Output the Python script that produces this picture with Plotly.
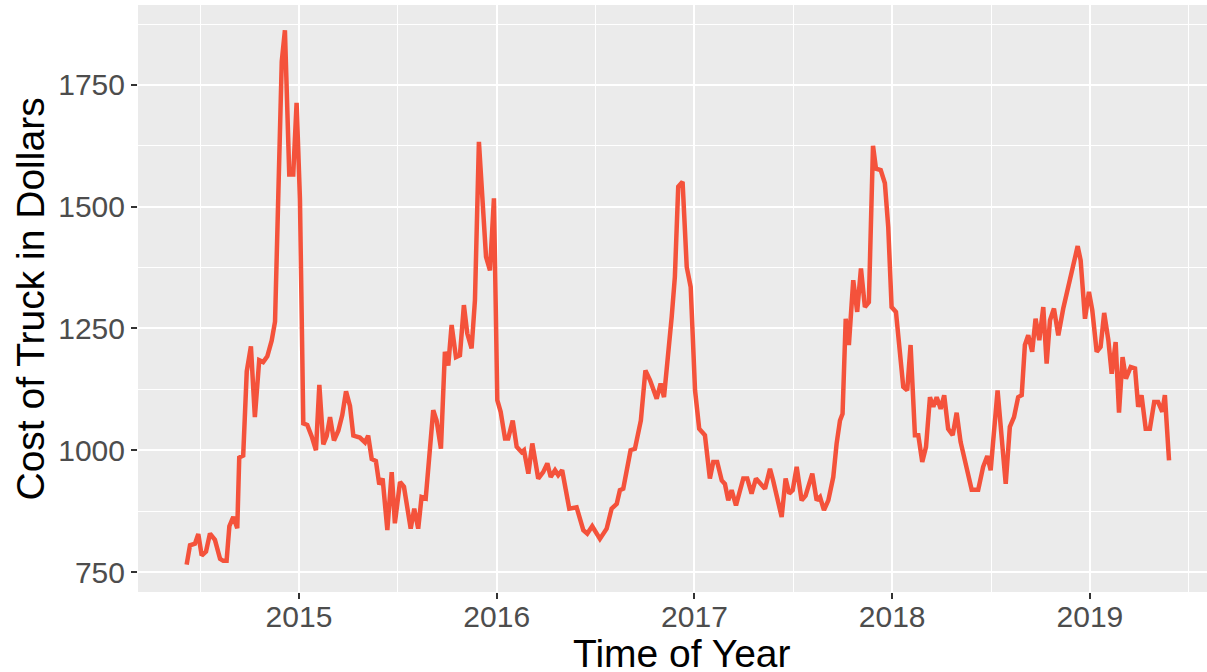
import plotly.graph_objects as go

# Time as decimal year, cost in dollars
year = [
    2014.432, 2014.449, 2014.474, 2014.491, 2014.508, 2014.530, 2014.550, 2014.575, 2014.601, 2014.617,
    2014.634, 2014.648, 2014.668, 2014.688, 2014.698, 2014.718, 2014.736, 2014.757, 2014.777, 2014.799,
    2014.819, 2014.840, 2014.862, 2014.879, 2014.913, 2014.929, 2014.951, 2014.971, 2014.988, 2015.005,
    2015.022, 2015.042, 2015.064, 2015.086, 2015.103, 2015.123, 2015.140, 2015.157, 2015.177, 2015.199,
    2015.219, 2015.238, 2015.258, 2015.275, 2015.308, 2015.334, 2015.350, 2015.368, 2015.389, 2015.406,
    2015.423, 2015.447, 2015.469, 2015.485, 2015.511, 2015.531, 2015.565, 2015.583, 2015.603, 2015.620,
    2015.641, 2015.679, 2015.696, 2015.718, 2015.738, 2015.755, 2015.772, 2015.794, 2015.814, 2015.834,
    2015.851, 2015.873, 2015.890, 2015.910, 2015.946, 2015.966, 2015.986, 2016.003, 2016.020, 2016.042,
    2016.058, 2016.081, 2016.101, 2016.126, 2016.138, 2016.160, 2016.180, 2016.210, 2016.235, 2016.256,
    2016.273, 2016.295, 2016.311, 2016.331, 2016.367, 2016.404, 2016.438, 2016.458, 2016.483, 2016.522,
    2016.556, 2016.581, 2016.607, 2016.623, 2016.640, 2016.677, 2016.699, 2016.729, 2016.752, 2016.775,
    2016.809, 2016.829, 2016.846, 2016.862, 2016.885, 2016.901, 2016.918, 2016.940, 2016.961, 2016.981,
    2017.003, 2017.024, 2017.053, 2017.078, 2017.095, 2017.115, 2017.138, 2017.154, 2017.171, 2017.188,
    2017.210, 2017.247, 2017.267, 2017.289, 2017.311, 2017.357, 2017.382, 2017.398, 2017.416, 2017.441,
    2017.461, 2017.479, 2017.497, 2017.517, 2017.542, 2017.562, 2017.596, 2017.618, 2017.635, 2017.655,
    2017.677, 2017.702, 2017.719, 2017.736, 2017.749, 2017.765, 2017.781, 2017.803, 2017.823, 2017.842,
    2017.862, 2017.882, 2017.903, 2017.918, 2017.942, 2017.963, 2017.980, 2017.997, 2018.019, 2018.039,
    2018.056, 2018.076, 2018.093, 2018.115, 2018.132, 2018.152, 2018.171, 2018.191, 2018.208, 2018.225,
    2018.245, 2018.263, 2018.283, 2018.306, 2018.326, 2018.346, 2018.376, 2018.402, 2018.435, 2018.460,
    2018.481, 2018.498, 2018.533, 2018.574, 2018.595, 2018.616, 2018.637, 2018.655, 2018.671, 2018.688,
    2018.708, 2018.725, 2018.744, 2018.764, 2018.781, 2018.798, 2018.818, 2018.840, 2018.865, 2018.899,
    2018.919, 2018.938, 2018.953, 2018.975, 2018.995, 2019.012, 2019.034, 2019.054, 2019.072, 2019.093,
    2019.110, 2019.130, 2019.147, 2019.165, 2019.182, 2019.206, 2019.228, 2019.244, 2019.261, 2019.282,
    2019.303, 2019.325, 2019.345, 2019.366, 2019.379, 2019.400,
]

cost = [
    765, 805, 808, 828, 784, 792, 829, 816, 777, 773,
    773, 844, 863, 840, 985, 989, 1162, 1213, 1068, 1185,
    1181, 1193, 1225, 1264, 1798, 1862, 1566, 1566, 1713, 1515,
    1055, 1052, 1029, 1000, 1134, 1012, 1029, 1068, 1020, 1040,
    1072, 1121, 1091, 1030, 1026, 1016, 1030, 982, 978, 930,
    942, 836, 955, 850, 935, 925, 839, 880, 839, 904,
    901, 1082, 1061, 1003, 1202, 1174, 1257, 1191, 1195, 1298,
    1240, 1209, 1308, 1633, 1397, 1369, 1517, 1103, 1079, 1024,
    1024, 1061, 1007, 996, 1000, 952, 1014, 942, 955, 973,
    945, 959, 949, 959, 880, 883, 836, 829, 844, 818,
    839, 880, 890, 918, 921, 1000, 1003, 1061, 1164, 1144,
    1106, 1137, 1109, 1171, 1274, 1356, 1541, 1551, 1376, 1335,
    1123, 1044, 1031, 942, 976, 976, 938, 931, 897, 918,
    887, 942, 942, 911, 942, 921, 962, 938, 904, 863,
    942, 911, 918, 966, 897, 907, 952, 897, 904, 877,
    897, 945, 1014, 1061, 1075, 1270, 1216, 1349, 1284, 1373,
    1294, 1304, 1625, 1578, 1575, 1548, 1458, 1294, 1284, 1191,
    1130, 1123, 1216, 1031, 1031, 976, 1007, 1109, 1089, 1109,
    1085, 1113, 1044, 1031, 1077, 1017, 966, 919, 919, 966,
    988, 959, 1123, 931, 1048, 1068, 1109, 1113, 1216, 1236,
    1202, 1270, 1226, 1294, 1178, 1267, 1291, 1236, 1291, 1349,
    1390, 1419, 1390, 1270, 1325, 1287, 1202, 1212, 1282, 1226,
    1157, 1222, 1077, 1191, 1147, 1171, 1168, 1089, 1113, 1044,
    1044, 1099, 1099, 1079, 1113, 979,
]

x_ticks = [2015, 2016, 2017, 2018, 2019]
y_ticks = [750, 1000, 1250, 1500, 1750]
x_title = "Time of Year"
y_title = "Cost of Truck in Dollars"

fig = go.Figure()
fig.add_trace(go.Scatter(
    x=year, y=cost, mode="lines",
    line=dict(color="#F4523B", width=4.5),
    hoverinfo="skip",
))

font_family = "Liberation Sans, Arial, Helvetica, sans-serif"

fig.update_layout(
    width=1207, height=672,
    margin=dict(l=138, r=0, t=5, b=80),
    paper_bgcolor="white",
    plot_bgcolor="#EBEBEB",
    showlegend=False,
    hovermode=False,
    font=dict(family=font_family, color="#4D4D4D"),
    xaxis=dict(
        range=[2014.186, 2019.592],
        tickvals=x_ticks,
        ticktext=[str(v) for v in x_ticks],
        ticks="outside", ticklen=6, tickwidth=2, tickcolor="#333333",
        tickfont=dict(size=30, color="#4D4D4D"),
        ticklabelstandoff=-8,
        showgrid=True, gridcolor="white", gridwidth=2,
        minor=dict(dtick=0.5, tick0=2014.5, showgrid=True, gridcolor="white", gridwidth=1, ticks=""),
        zeroline=False, showline=False, automargin=False,
    ),
    yaxis=dict(
        range=[709, 1914],
        tickvals=y_ticks,
        ticktext=[str(v) for v in y_ticks],
        ticks="outside", ticklen=6, tickwidth=2, tickcolor="#333333",
        tickfont=dict(size=30, color="#4D4D4D"),
        showgrid=True, gridcolor="white", gridwidth=2,
        minor=dict(dtick=125, tick0=750, showgrid=True, gridcolor="white", gridwidth=1, ticks=""),
        zeroline=False, showline=False, automargin=False,
    ),
    annotations=[
        dict(text=x_title, xref="paper", yref="paper", x=0.5086, y=-0.1045,
             xanchor="center", yanchor="middle", showarrow=False,
             font=dict(size=39, color="black", family=font_family)),
        dict(text=y_title, xref="paper", yref="paper", x=-0.1001, y=0.5,
             xanchor="center", yanchor="middle", textangle=-90, showarrow=False,
             font=dict(size=39, color="black", family=font_family)),
    ],
)

fig.write_html(
    "out.html",
    config={"displayModeBar": False},
    post_script="document.body.style.margin='0';document.body.style.overflow='hidden';",
)
